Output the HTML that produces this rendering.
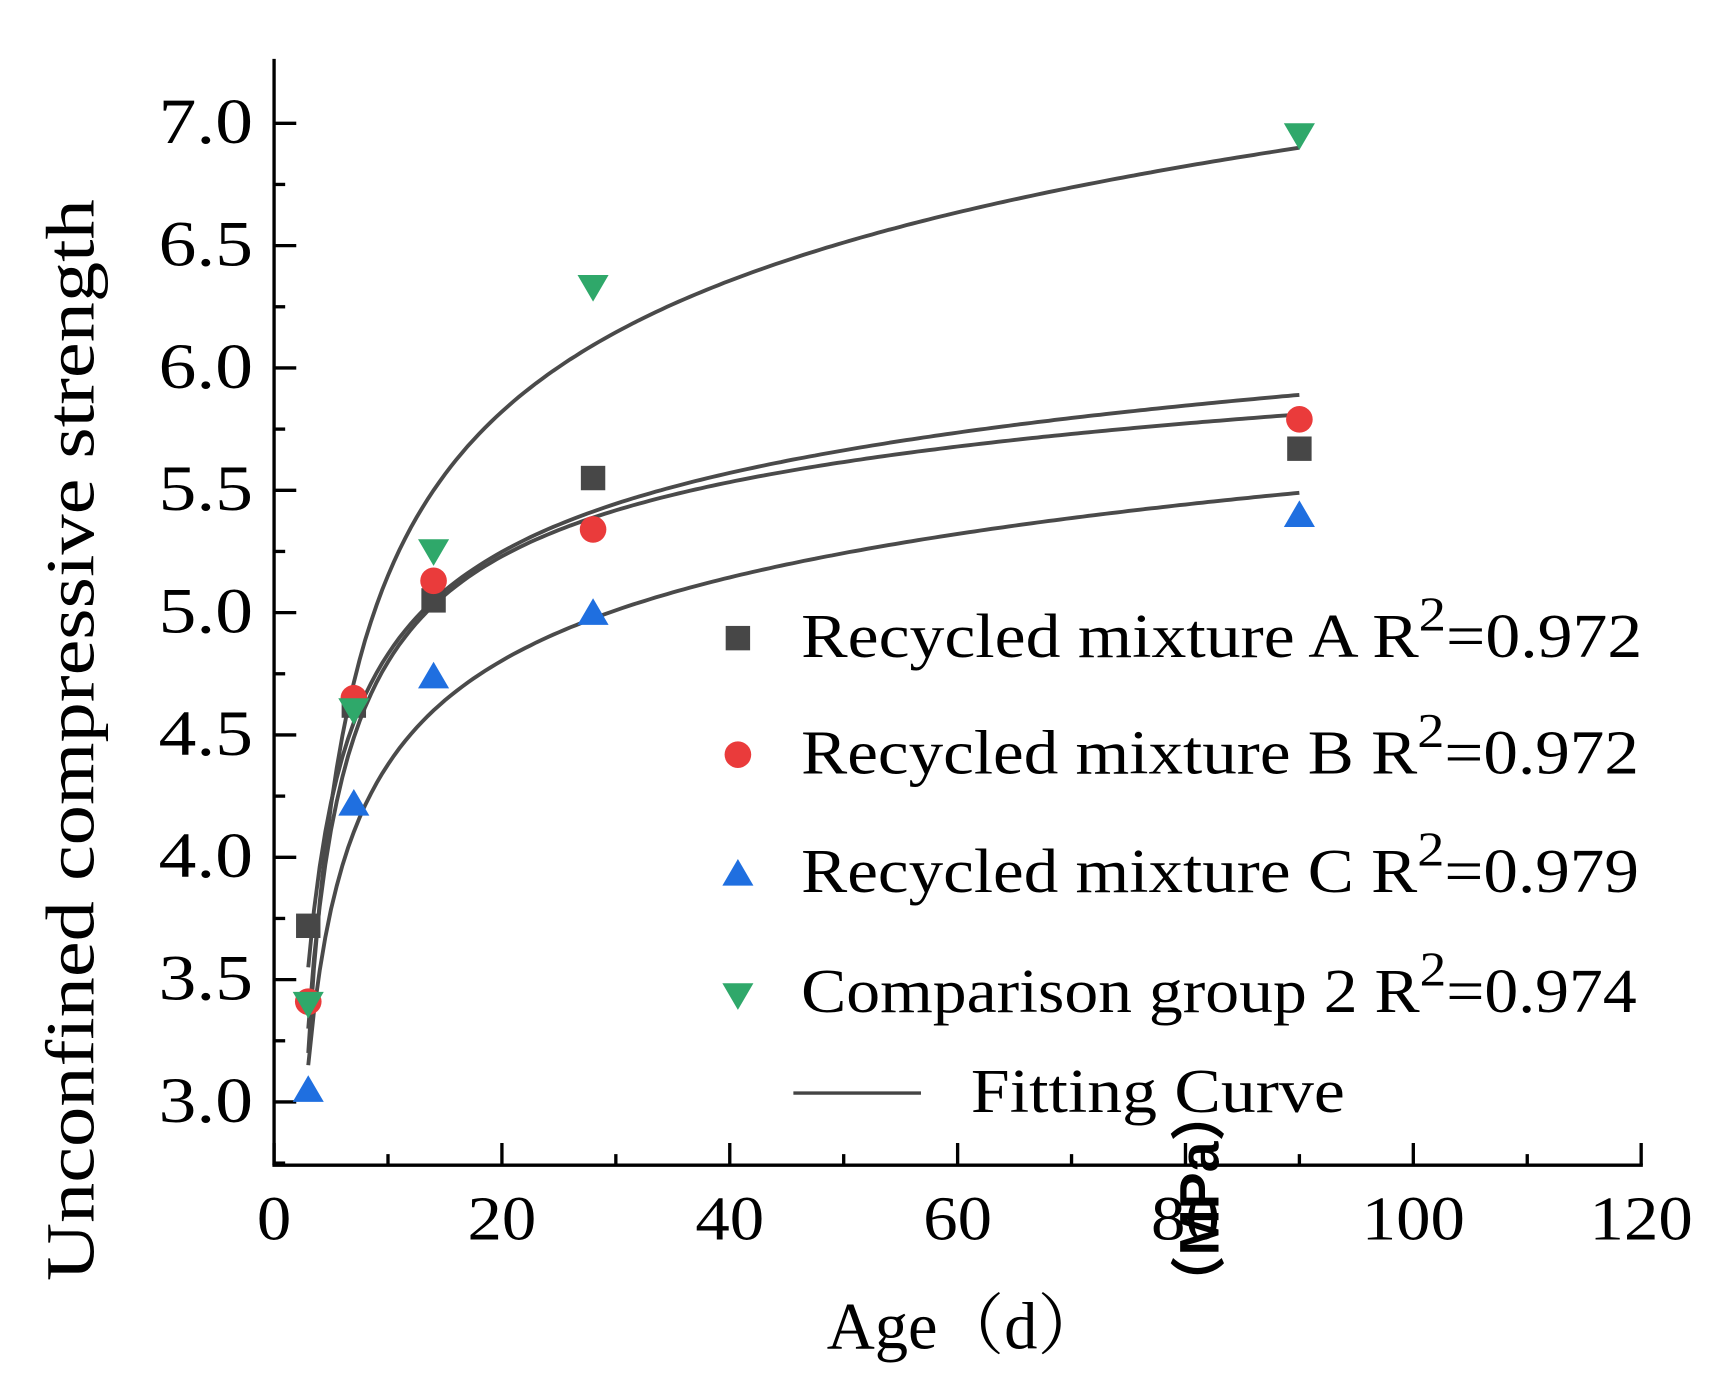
<!DOCTYPE html>
<html><head><meta charset="utf-8"><style>
html,body{margin:0;padding:0;background:#fff;}
svg{display:block;}
text{font-family:"Liberation Serif",serif;fill:#000;}
</style></head><body>
<svg id="s" width="1731" height="1395" viewBox="0 0 1560 1257" xmlns="http://www.w3.org/2000/svg">
<g id="g"></g>
<text x="70" y="667" font-size="62" text-anchor="middle" textLength="975" lengthAdjust="spacingAndGlyphs" transform="rotate(-90 70 667)" dominant-baseline="middle">Unconfined compressive strength</text>
<text x="870" y="1215" font-size="60" text-anchor="middle" style="font-family:'Liberation Serif','Noto Serif CJK SC',serif">Age（d）</text>
<text x="1085" y="1080" font-size="50" font-weight="bold" text-anchor="middle" transform="rotate(-90 1085 1080)" style="font-family:'Liberation Sans','Noto Sans CJK SC',sans-serif" dominant-baseline="middle">（MPa）</text>
<g font-size="56">
<text x="722" y="592" textLength="758" lengthAdjust="spacingAndGlyphs">Recycled mixture A  R<tspan dy="-24" font-size="44">2</tspan><tspan dy="24">=0.972</tspan></text>
<text x="722" y="697" textLength="755" lengthAdjust="spacingAndGlyphs">Recycled mixture B  R<tspan dy="-24" font-size="44">2</tspan><tspan dy="24">=0.972</tspan></text>
<text x="722" y="804" textLength="755" lengthAdjust="spacingAndGlyphs">Recycled mixture C  R<tspan dy="-24" font-size="44">2</tspan><tspan dy="24">=0.979</tspan></text>
<text x="722" y="912" textLength="753" lengthAdjust="spacingAndGlyphs">Comparison group 2 R<tspan dy="-24" font-size="44">2</tspan><tspan dy="24">=0.974</tspan></text>
<text x="875" y="1002" textLength="337" lengthAdjust="spacingAndGlyphs">Fitting  Curve</text>
</g>
<line x1="715" y1="985" x2="830" y2="985" stroke="#444" stroke-width="3"/>
</svg>
<script>
var g=document.getElementById('g'),h='';
function X(v){return 247+v*10.267;}function Y(v){return 993-(v-3)*220.5;}
h+='<line x1="247" y1="53" x2="247" y2="1050" stroke="#000" stroke-width="3"/>';
h+='<line x1="245.5" y1="1050" x2="'+(X(120)+1.5)+'" y2="1050" stroke="#000" stroke-width="3"/>';
for(var i=0;i<=12;i++){var x=X(i*10),L=i%2?10:20;h+='<line x1="'+x+'" y1="1050" x2="'+x+'" y2="'+(1050-L)+'" stroke="#000" stroke-width="3"/>';
if(i%2==0){var s=String(i*10);h+='<text x="'+x+'" y="1117" font-size="56" text-anchor="middle" textLength="'+(s.length*31)+'" lengthAdjust="spacingAndGlyphs">'+s+'</text>';}}
for(var k=0;k<=17;k++){var v=2.75+k*0.25,y=Y(v);if(y<55)continue;var maj=(k%2==1);h+='<line x1="247" y1="'+y+'" x2="'+(247+(maj?20:10))+'" y2="'+y+'" stroke="#000" stroke-width="3"/>';
if(maj)h+='<text x="143" y="'+(y+18)+'" font-size="58" textLength="85" lengthAdjust="spacingAndGlyphs">'+v.toFixed(1)+'</text>';}
function fit(p){var A=p.map(function(q){return [1,Math.log(q[0]),1/q[0],q[1]];});
for(var c=0;c<3;c++){for(var r=c+1;r<3;r++){var f=A[r][c]/A[c][c];for(var j=c;j<4;j++)A[r][j]-=f*A[c][j];}}
var s=[0,0,0];for(var c2=2;c2>=0;c2--){var t=A[c2][3];for(var j2=c2+1;j2<3;j2++)t-=A[c2][j2]*s[j2];s[c2]=t/A[c2][c2];}
var d='';for(var x=3;x<=90.01;x+=0.5){var y=s[0]+s[1]*Math.log(x)+s[2]/x;d+=(d?'L':'M')+X(x).toFixed(1)+','+Y(y).toFixed(1);}
return '<path d="'+d+'" fill="none" stroke="#4a4a4a" stroke-width="3.5"/>';}
h+=fit([[3,3.2],[14,5.5],[90,6.9]]);
h+=fit([[3,3.55],[14,5.05],[90,5.89]]);
h+=fit([[3,3.3],[14,5.03],[90,5.81]]);
h+=fit([[3,3.15],[14,4.6],[90,5.49]]);
var xs=[3,7,14,28,90];
function sq(x,y,c){return '<rect x="'+(x-11)+'" y="'+(y-11)+'" width="22" height="22" fill="'+c+'"/>';}
function ci(x,y,c){return '<circle cx="'+x+'" cy="'+y+'" r="12" fill="'+c+'"/>';}
function tu(x,y,c){return '<polygon points="'+x+','+(y-13)+' '+(x-14)+','+(y+11)+' '+(x+14)+','+(y+11)+'" fill="'+c+'"/>';}
function td(x,y,c){return '<polygon points="'+x+','+(y+13)+' '+(x-14)+','+(y-11)+' '+(x+14)+','+(y-11)+'" fill="'+c+'"/>';}
var A=[3.72,4.62,5.05,5.55,5.67],B=[3.41,4.65,5.13,5.34,5.79],C=[3.05,4.22,4.74,5.0,5.40],D=[3.40,4.60,5.25,6.33,6.95];
var ca='#474747',cb='#ea3b3b',cc='#1f6fe0',cd='#2fa86a';
for(var n=0;n<5;n++){h+=sq(X(xs[n]),Y(A[n]),ca);}
for(var n=0;n<5;n++){h+=ci(X(xs[n]),Y(B[n]),cb);}
for(var n=0;n<5;n++){h+=tu(X(xs[n]),Y(C[n]),cc);}
for(var n=0;n<5;n++){h+=td(X(xs[n]),Y(D[n]),cd);}
h+=sq(665,575,ca)+ci(665,680,cb)+tu(665,787,cc)+td(665,897,cd);
g.innerHTML=h;
</script>
</body></html>
